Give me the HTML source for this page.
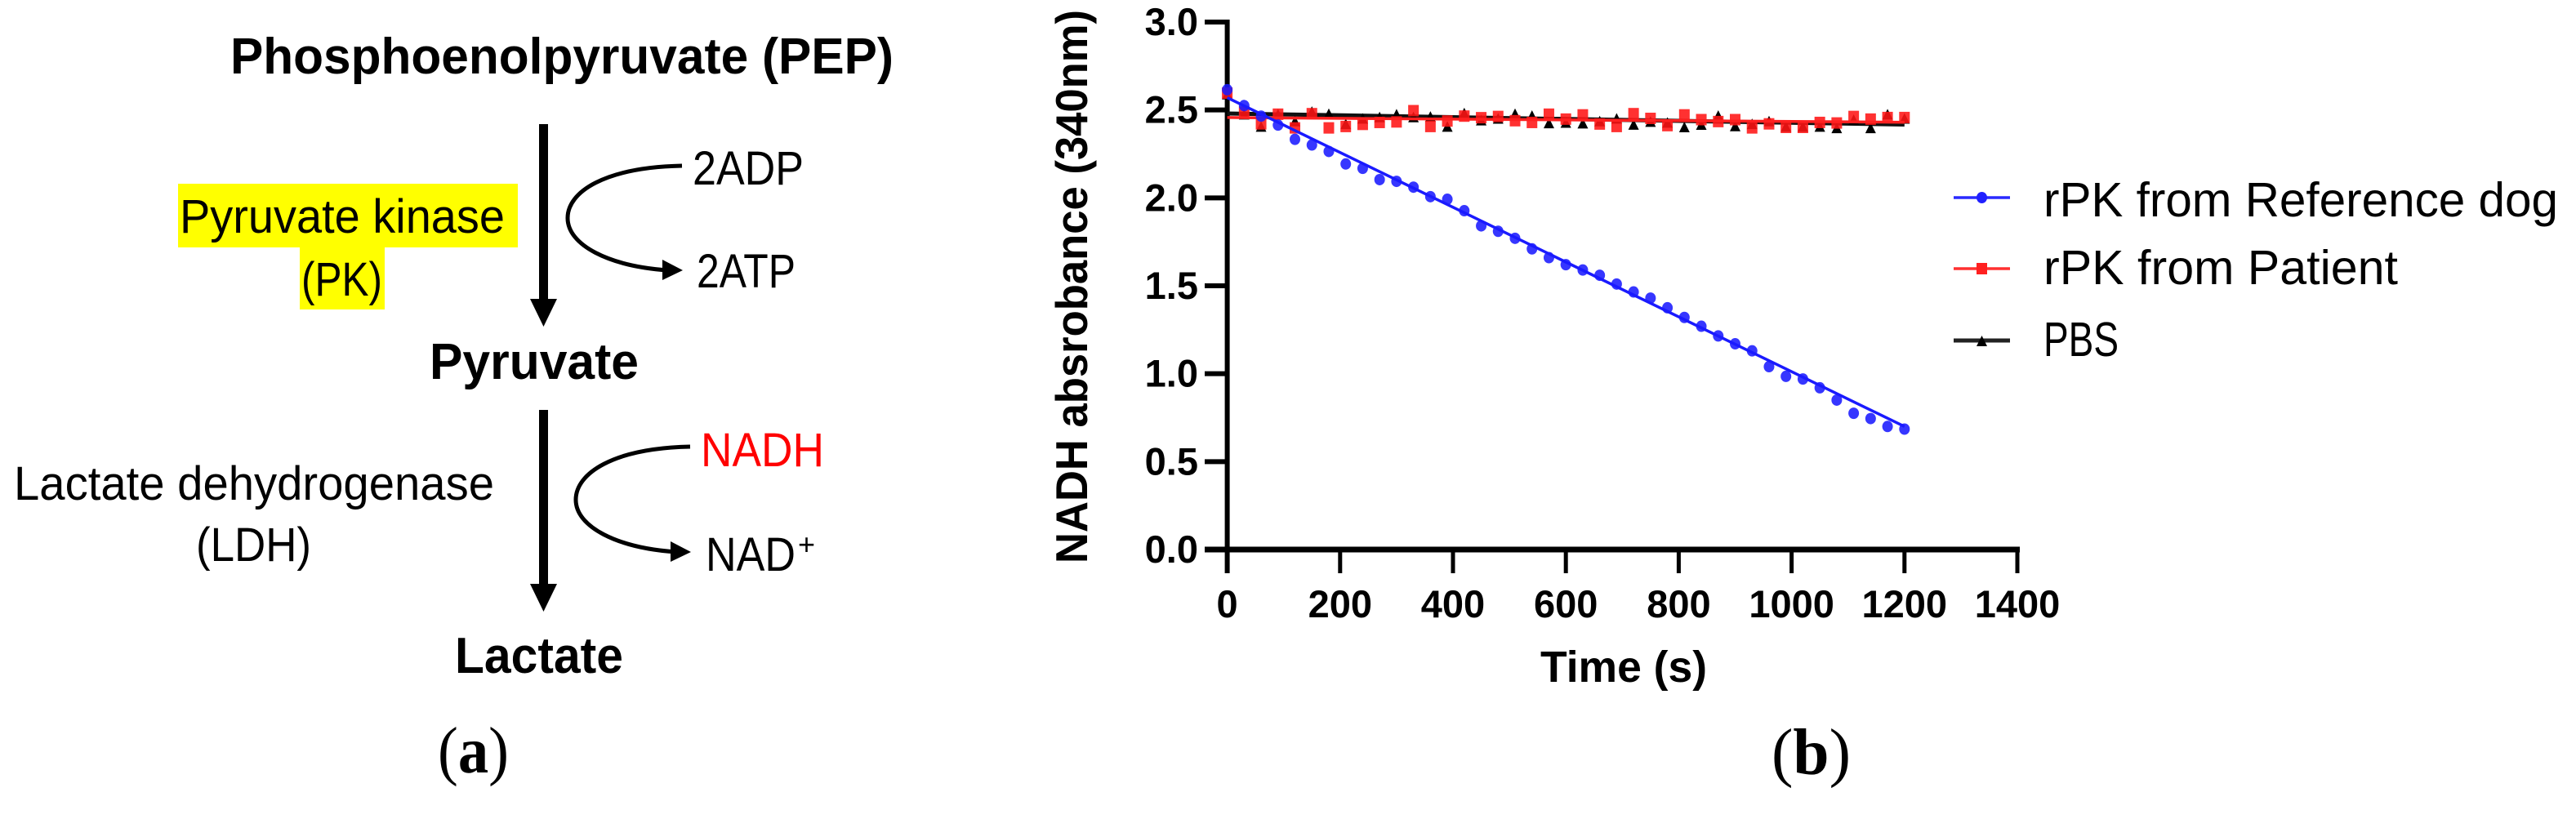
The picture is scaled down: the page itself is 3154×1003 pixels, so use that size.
<!DOCTYPE html>
<html lang="en">
<head>
<meta charset="utf-8">
<title>Pyruvate kinase pathway and NADH absorbance chart</title>
<style>
html,body{margin:0;padding:0;background:#fff;}
#figure{display:block;width:3154px;height:1003px;}
text{font-family:"Liberation Sans",Arial,sans-serif;fill:#000;}
.b{font-weight:bold;}
.serif{font-family:"Liberation Serif","Times New Roman",serif;}
</style>
</head>
<body>
<svg id="figure" xmlns="http://www.w3.org/2000/svg" width="3154" height="1003" viewBox="0 0 3154 1003">
  <rect x="0" y="0" width="3154" height="1003" fill="#fff"/>

  <g>
    <rect x="218" y="225" width="416" height="78" fill="#ffff00"/>
    <rect x="367" y="303" width="104" height="76" fill="#ffff00"/>

    <text class="b" x="282" y="90" font-size="62" textLength="812" lengthAdjust="spacingAndGlyphs">Phosphoenolpyruvate (PEP)</text>
    <text class="b" x="526" y="464" font-size="62" textLength="256" lengthAdjust="spacingAndGlyphs">Pyruvate</text>
    <text class="b" x="557" y="824" font-size="62" textLength="206" lengthAdjust="spacingAndGlyphs">Lactate</text>

    <text x="220" y="285" font-size="58" textLength="398" lengthAdjust="spacingAndGlyphs">Pyruvate kinase</text>
    <text x="369" y="362" font-size="58" textLength="99" lengthAdjust="spacingAndGlyphs">(PK)</text>
    <text x="17" y="612" font-size="58" textLength="588" lengthAdjust="spacingAndGlyphs">Lactate dehydrogenase</text>
    <text x="240" y="687" font-size="58" textLength="141" lengthAdjust="spacingAndGlyphs">(LDH)</text>

    <text x="848" y="226" font-size="58" textLength="136" lengthAdjust="spacingAndGlyphs">2ADP</text>
    <text x="853" y="352" font-size="58" textLength="121" lengthAdjust="spacingAndGlyphs">2ATP</text>
    <text x="858" y="571" font-size="58" textLength="151" lengthAdjust="spacingAndGlyphs" style="fill:#ff0000">NADH</text>
    <text x="864" y="699" font-size="58" textLength="110" lengthAdjust="spacingAndGlyphs">NAD</text>
    <text x="977" y="679" font-size="36">+</text>

    <g>
      <rect x="660" y="152" width="11" height="216" fill="#000"/>
      <polygon points="649,366 682,366 665.5,400" fill="#000"/>
    </g>
    <g>
      <rect x="660" y="502" width="11" height="215" fill="#000"/>
      <polygon points="649,715 682,715 665.5,749" fill="#000"/>
    </g>
    <g>
      <path d="M835,203 C740,205 695,235 695,267 C695,300 745,326 818,331" fill="none" stroke="#000" stroke-width="5"/>
      <polygon points="811,318 836,331 811,343" fill="#000"/>
    </g>
    <g>
      <path d="M845,547 C750,549 705,580 705,612 C705,645 755,671 828,676" fill="none" stroke="#000" stroke-width="5"/>
      <polygon points="821,663 846,676 821,688" fill="#000"/>
    </g>
  </g>

  <text class="serif" x="536" y="946" font-size="80" textLength="87" lengthAdjust="spacingAndGlyphs">(<tspan font-weight="bold">a</tspan>)</text>
  <text class="serif" x="2169" y="948" font-size="80" textLength="97" lengthAdjust="spacingAndGlyphs">(<tspan font-weight="bold">b</tspan>)</text>

  <g id="chart">
    <text class="b" transform="translate(1331,690) rotate(-90)" x="0" y="0" font-size="55" textLength="678" lengthAdjust="spacingAndGlyphs">NADH absrobance (340nm)</text>
    <text class="b" x="1886" y="835" font-size="54" textLength="204" lengthAdjust="spacingAndGlyphs">Time (s)</text>
  </g>

  <g>
    <g>
      <line x1="2392" y1="242" x2="2461" y2="242" stroke="#2a2aff" stroke-width="3.5"/>
      <ellipse cx="2426.5" cy="242" rx="6.5" ry="7" fill="#2020ff"/>
      <text x="2502" y="265" font-size="59" textLength="630" lengthAdjust="spacingAndGlyphs">rPK from Reference dog</text>
    </g>
    <g>
      <line x1="2392" y1="329" x2="2461" y2="329" stroke="#ff3030" stroke-width="3.5"/>
      <rect x="2420" y="322" width="13" height="14" fill="#ff2020"/>
      <text x="2502" y="348" font-size="59" textLength="434" lengthAdjust="spacingAndGlyphs">rPK from Patient</text>
    </g>
    <g>
      <line x1="2392" y1="417" x2="2461" y2="417" stroke="#222" stroke-width="5"/>
      <polygon points="2420,424 2433,424 2426.5,411" fill="#000"/>
      <text x="2502" y="436" font-size="59" textLength="92" lengthAdjust="spacingAndGlyphs">PBS</text>
    </g>
  </g>
</svg>

<script>
const timeSeconds = [0,30,60,90,120,150,180,210,240,270,300,330,360,390,420,450,480,510,540,570,600,630,660,690,720,750,780,810,840,870,900,930,960,990,1020,1050,1080,1110,1140,1170,1200];
const referenceDogValues = [2.615,2.525,2.465,2.414,2.333,2.301,2.264,2.193,2.168,2.104,2.094,2.061,2.007,1.992,1.927,1.841,1.81,1.77,1.71,1.66,1.62,1.59,1.56,1.51,1.465,1.43,1.375,1.32,1.27,1.215,1.17,1.13,1.04,0.985,0.97,0.92,0.85,0.775,0.745,0.70,0.685];
const patientValues = [2.596,2.488,2.421,2.476,2.398,2.479,2.398,2.406,2.418,2.429,2.432,2.496,2.406,2.437,2.465,2.456,2.463,2.439,2.429,2.476,2.448,2.472,2.42,2.406,2.479,2.452,2.411,2.472,2.445,2.434,2.445,2.398,2.421,2.401,2.401,2.429,2.426,2.463,2.448,2.457,2.457];
const pbsValues = [2.59,2.476,2.406,2.476,2.437,2.491,2.479,2.421,2.452,2.46,2.476,2.46,2.463,2.406,2.483,2.442,2.452,2.479,2.468,2.426,2.429,2.425,2.437,2.452,2.418,2.434,2.429,2.403,2.417,2.468,2.409,2.421,2.437,2.406,2.406,2.406,2.398,2.445,2.398,2.476,2.452];
const fitTimes = [0,1200];
const referenceDogFit = [2.57,0.70];
const patientFit = [2.457,2.43];
const pbsFit = [2.48,2.417];
const yTickValues = [0,0.5,1,1.5,2,2.5,3];
const yTickLabels = ["0.0","0.5","1.0","1.5","2.0","2.5","3.0"];
const xTickValues = [0,200,400,600,800,1000,1200,1400];
const xTickLabels = ["0","200","400","600","800","1000","1200","1400"];

const NS = "http://www.w3.org/2000/svg";
const chart = document.getElementById("chart");
function xScale(t){ return 1502.6 + (t / 1400) * 967.4; }
function yScale(v){ return 673 - (v / 3) * 646; }
function make(tag, parent){ const el = document.createElementNS(NS, tag); parent.appendChild(el); return el; }
function setLine(el, x1, y1, x2, y2, color, width){
  el.setAttribute("x1", x1); el.setAttribute("y1", y1);
  el.setAttribute("x2", x2); el.setAttribute("y2", y2);
  el.setAttribute("stroke", color); el.setAttribute("stroke-width", width);
}

const axes = make("g", chart);



const yAxisLine = make("line", axes);
setLine(yAxisLine, xScale(0), yScale(3) - 3, xScale(0), 702, "#000", 6);



const xAxisLine = make("line", axes);
setLine(xAxisLine, 1475, yScale(0), xScale(1400) + 3, yScale(0), "#000", 7);



yTickValues.forEach(function(v, i){
  const tick = make("line", axes);
  setLine(tick, 1475, yScale(v), xScale(0), yScale(v), "#000", 6);
  
  
  const label = make("text", axes);
  label.setAttribute("class", "b");
  label.setAttribute("x", 1467);
  label.setAttribute("y", yScale(v) + 16);
  label.setAttribute("font-size", 47);
  label.setAttribute("text-anchor", "end");
  label.textContent = yTickLabels[i];
  
  
});

xTickValues.forEach(function(t, i){
  const tick = make("line", axes);
  setLine(tick, xScale(t), yScale(0), xScale(t), 702, "#000", 5);
  
  
  const label = make("text", axes);
  label.setAttribute("class", "b");
  label.setAttribute("x", xScale(t));
  label.setAttribute("y", 756);
  label.setAttribute("font-size", 47);
  label.setAttribute("text-anchor", "middle");
  label.textContent = xTickLabels[i];
  
  
});

function drawFit(parent, fit, color, width){
  const line = make("line", parent);
  setLine(line, xScale(fitTimes[0]), yScale(fit[0]), xScale(fitTimes[1]), yScale(fit[1]), color, width);
  return line;
}

const pbsGroup = make("g", chart);


const pbsLine = drawFit(pbsGroup, pbsFit, "#111", 5);


pbsValues.forEach(function(v, i){
  const cx = xScale(timeSeconds[i]);
  const cy = yScale(v);
  const mark = make("polygon", pbsGroup);
  mark.setAttribute("points", (cx - 6.5) + "," + (cy + 6.5) + " " + (cx + 6.5) + "," + (cy + 6.5) + " " + cx + "," + (cy - 6.5));
  mark.setAttribute("fill", "#000");
  
  
});

const patientGroup = make("g", chart);


patientValues.forEach(function(v, i){
  const mark = make("rect", patientGroup);
  mark.setAttribute("x", xScale(timeSeconds[i]) - 6.5);
  mark.setAttribute("y", yScale(v) - 7);
  mark.setAttribute("width", 13);
  mark.setAttribute("height", 14);
  mark.setAttribute("fill", "#ff1515");
  mark.setAttribute("fill-opacity", "0.88");
  
  
});
const patientLine = drawFit(patientGroup, patientFit, "#ff2020", 3.5);



const referenceGroup = make("g", chart);


referenceDogValues.forEach(function(v, i){
  const mark = make("ellipse", referenceGroup);
  mark.setAttribute("cx", xScale(timeSeconds[i]));
  mark.setAttribute("cy", yScale(v));
  mark.setAttribute("rx", 6.5);
  mark.setAttribute("ry", 7);
  mark.setAttribute("fill", "#1a1aff");
  mark.setAttribute("fill-opacity", "0.88");
  
  
});
const referenceLine = drawFit(referenceGroup, referenceDogFit, "#1a1aff", 3.5);


</script>
</body>
</html>
